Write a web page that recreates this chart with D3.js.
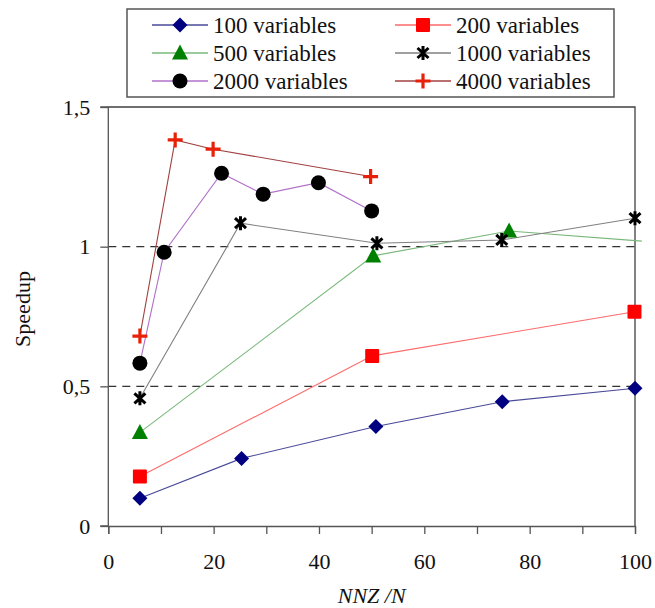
<!DOCTYPE html>
<html>
<head>
<meta charset="utf-8">
<script src="https://cdn.jsdelivr.net/npm/d3@7"></script>
<style>
  body { margin: 0; background: #fff; }
</style>
</head>
<body>
<div id="chart"></div>
<script>
// data
var seriesNames = ["100 variables", "200 variables", "500 variables", "1000 variables", "2000 variables", "4000 variables"];
var x100 = [6, 25.3, 50.8, 74.8, 100];
var y100 = [0.099, 0.242, 0.356, 0.445, 0.493];
var x200 = [6, 50.1, 99.9];
var y200 = [0.177, 0.609, 0.767];
var x500 = [6, 50.3, 76.1, 101.3];
var y500 = [0.335, 0.967, 1.056, 1.02];
var x1000 = [6, 25.1, 51, 74.7, 100];
var y1000 = [0.457, 1.084, 1.012, 1.024, 1.102];
var x2000 = [6, 10.6, 21.5, 29.4, 39.9, 50];
var y2000 = [0.583, 0.98, 1.263, 1.188, 1.229, 1.128];
var x4000 = [6, 12.7, 19.9, 49.8];
var y4000 = [0.68, 1.382, 1.349, 1.251];
var xTicks = [0, 10, 20, 30, 40, 50, 60, 70, 80, 90, 100];
var yTicks = [0, 0.5, 1, 1.5];
var refLines = [0.5, 1];

var width = 655, height = 608;
var plotLeft = 108.3, plotRight = 635, plotTop = 107, plotBottom = 526;
var serif = "Liberation Serif";

var styles = [
    { line: "#4a4a9a", fill: "#000080", shape: "diamond" },
    { line: "#ff6a6a", fill: "#ff0000", shape: "square" },
    { line: "#7ab87a", fill: "#008000", shape: "triangle" },
    { line: "#808080", fill: "#000", shape: "star" },
    { line: "#b070c8", fill: "#000", shape: "circle" },
    { line: "#a04040", fill: "#e8200a", shape: "plus" }
];

var xs = [x100, x200, x500, x1000, x2000, x4000];
var ys = [y100, y200, y500, y1000, y2000, y4000];
var series = seriesNames.map(function (n, i) {
    return { name: n, style: styles[i], pts: xs[i].map(function (v, j) { return { x: v, y: ys[i][j] }; }) };
});

var scaleX = d3.scaleLinear([0, 100], [plotLeft, plotRight]);
var scaleY = d3.scaleLinear([0, 1.5], [plotBottom, plotTop]);

var svg = d3.select("#chart").append("svg")
    .attr("width", width).attr("height", height)
    .attr("font-family", serif);

// frame top/right
svg.append("path")
    .attr("d", `M${plotLeft},${plotTop}H${plotRight}V${plotBottom}`)
    .attr("fill", "none").attr("stroke", "#404040").attr("stroke-width", 1.3);

// dashed reference lines
svg.selectAll(".ref").data(refLines).enter().append("line")
    .attr("x1", plotLeft).attr("x2", plotRight)
    .attr("y1", function (d) { return scaleY(d); }).attr("y2", function (d) { return scaleY(d); })
    .attr("stroke", "#333").attr("stroke-width", 1.2).attr("stroke-dasharray", "8,6");

var fmtY = function (d) { return String(d).replace(".", ","); };
var axisY = d3.axisLeft(scaleY).tickValues(yTicks).tickFormat(fmtY).tickSize(8).tickPadding(10);
var axisX = d3.axisBottom(scaleX).tickValues(xTicks)
    .tickFormat(function (d) { return d % 20 === 0 ? d : ""; }).tickSize(8).tickPadding(19);

var gy = svg.append("g").attr("transform", `translate(${plotLeft},0)`).call(axisY);
var gx = svg.append("g").attr("transform", `translate(0,${plotBottom})`).call(axisX);
[gx, gy].forEach(function (g) {
    g.attr("font-family", serif).attr("font-size", 22);
    g.select(".domain").attr("stroke", "#555").attr("stroke-width", 1.3);
    g.selectAll(".tick line").attr("stroke", "#555").attr("stroke-width", 1.3);
    g.selectAll("text").attr("fill", "#111");
});
gy.select(".domain").attr("d", `M-8,${plotTop}H0V${plotBottom}H-8`);

svg.append("text")
    .attr("transform", `translate(30,309) rotate(-90)`)
    .attr("text-anchor", "middle").attr("font-size", 22).attr("fill", "#111")
    .text("Speedup");
svg.append("text")
    .attr("x", (plotLeft + plotRight) / 2).attr("y", 603)
    .attr("text-anchor", "middle").attr("font-size", 22).attr("font-style", "italic").attr("fill", "#111")
    .text("NNZ /N");

function drawMarker(g, shape, fill) {
    if (shape === "diamond")
        g.append("path").attr("d", "M0,-7.5L7.5,0L0,7.5L-7.5,0Z").attr("fill", fill);
    else if (shape === "square")
        g.append("rect").attr("x", -7).attr("y", -7).attr("width", 14).attr("height", 14).attr("rx", 1).attr("fill", fill);
    else if (shape === "triangle")
        g.append("path").attr("d", "M0,-8.5L8,6.5L-8,6.5Z").attr("fill", fill);
    else if (shape === "circle")
        g.append("circle").attr("r", 7.5).attr("fill", fill);
    else if (shape === "star")
        g.append("path").attr("d", "M0,-7V7M-5.5,-5L5.5,5M-5.5,5L5.5,-5")
            .attr("stroke", fill).attr("stroke-width", 3).attr("fill", "none");
    else if (shape === "plus")
        g.append("path").attr("d", "M0,-7.5V7.5M-7.5,0H7.5")
            .attr("stroke", fill).attr("stroke-width", 3.2).attr("fill", "none");
}

var line = d3.line().x(function (d) { return scaleX(d.x); }).y(function (d) { return scaleY(d.y); });

series.forEach(function (s) {
    svg.append("path").datum(s.pts)
        .attr("d", line).attr("fill", "none")
        .attr("stroke", s.style.line).attr("stroke-width", 1.1);
});
series.forEach(function (s) {
    svg.selectAll(null).data(s.pts.filter(function (p) { return p.x <= 100; })).enter().append("g")
        .attr("transform", function (p) { return `translate(${scaleX(p.x)},${scaleY(p.y)})`; })
        .each(function () { drawMarker(d3.select(this), s.style.shape, s.style.fill); });
});

// legend
var legend = svg.append("g");
legend.append("rect").attr("x", 127).attr("y", 9).attr("width", 487).attr("height", 88)
    .attr("fill", "#fff").attr("stroke", "#555").attr("stroke-width", 1.5);
series.forEach(function (s, i) {
    var col = i % 2, row = Math.floor(i / 2);
    var lx = col === 0 ? 152 : 395, ly = 25 + row * 28;
    var g = legend.append("g").attr("transform", `translate(${lx},${ly})`);
    g.append("line").attr("x1", 0).attr("x2", 56).attr("stroke", s.style.line).attr("stroke-width", 1.3);
    drawMarker(g.append("g").attr("transform", "translate(28,0)"), s.style.shape, s.style.fill);
    g.append("text").attr("x", 61).attr("y", 8).attr("font-size", 23).attr("fill", "#111").text(s.name);
});
</script>
</body>
</html>
